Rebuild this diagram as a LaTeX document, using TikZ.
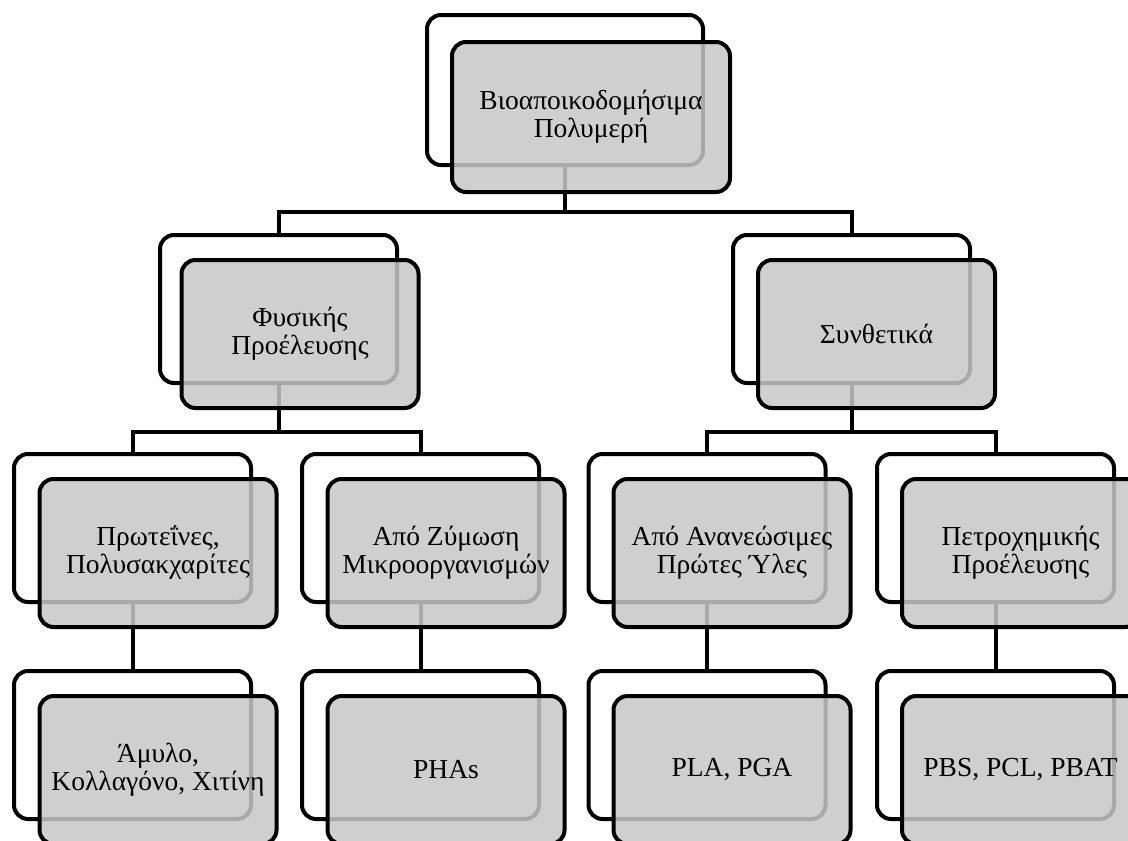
\documentclass[tikz,border=0pt]{standalone}
\usepackage{fontspec}
\setmainfont{Liberation Serif}
\definecolor{frontgrey}{RGB}{199,199,199}
\begin{document}
\begin{tikzpicture}[x=1pt,y=-1pt,
  backbox/.style={draw=black,line width=4pt,fill=white,rounded corners=14pt,
    minimum width=237pt,minimum height=148pt,inner sep=0pt},
  frontbox/.style={draw=black,line width=4pt,fill=frontgrey,fill opacity=0.85,
    draw opacity=1,text opacity=1,rounded corners=14pt,
    minimum width=237pt,minimum height=148pt,inner sep=0pt,align=center,
    font=\fontsize{27.5}{28}\selectfont},
  conn/.style={draw=black,line width=4pt}]
\clip (0,0) rectangle (1128,841);
\fill[white] (0,0) rectangle (1128,841);

% back boxes
\node[backbox,minimum width=276pt,minimum height=150pt] (b0) at (565,90) {};
\node[backbox] (bL) at (278.5,309) {};
\node[backbox] (bR) at (851.5,309) {};
\node[backbox] (bA) at (132.5,528) {};
\node[backbox] (bB) at (420.5,528) {};
\node[backbox] (bC) at (707,528) {};
\node[backbox] (bD) at (995.5,528) {};
\node[backbox] (cA) at (132.5,745) {};
\node[backbox] (cB) at (420.5,745) {};
\node[backbox] (cC) at (707,745) {};
\node[backbox] (cD) at (995.5,745) {};

% junctions
\coordinate (j0) at (565,212);
\coordinate (jL) at (278.5,432);
\coordinate (jR) at (851.5,432);

% connectors
\draw[conn] (b0.south) -- (j0);
\draw[conn] (bL.north) -- (bL.north |- j0) -- (bR.north |- j0) -- (bR.north);
\draw[conn] (bL.south) -- (jL);
\draw[conn] (bA.north) -- (bA.north |- jL) -- (bB.north |- jL) -- (bB.north);
\draw[conn] (bR.south) -- (jR);
\draw[conn] (bC.north) -- (bC.north |- jR) -- (bD.north |- jR) -- (bD.north);
\draw[conn] (bA.south) -- (cA.north);
\draw[conn] (bB.south) -- (cB.north);
\draw[conn] (bC.south) -- (cC.north);
\draw[conn] (bD.south) -- (cD.north);

% front boxes
\node[frontbox,minimum width=278pt,minimum height=150pt] (f0) at (591,117) {Βιοαποικοδομήσιμα\\Πολυμερή};
\node[frontbox] (fL) at (300,334) {Φυσικής\\Προέλευσης};
\node[frontbox] (fR) at (876.5,334) {Συνθετικά};
\node[frontbox] (fA) at (158,553) {Πρωτεΐνες,\\Πολυσακχαρίτες};
\node[frontbox] (fB) at (446,553) {Από Ζύμωση\\Μικροοργανισμών};
\node[frontbox] (fC) at (732,553) {Από Ανανεώσιμες\\Πρώτες Ύλες};
\node[frontbox] (fD) at (1020.5,553) {Πετροχημικής\\Προέλευσης};
\node[frontbox] (gA) at (158,770) {Άμυλο,\\Κολλαγόνο, Χιτίνη};
\node[frontbox] (gB) at (446,770) {PHAs};
\node[frontbox] (gC) at (732,770) {PLA, PGA};
\node[frontbox] (gD) at (1020.5,770) {PBS, PCL, PBAT};
\end{tikzpicture}
\end{document}
